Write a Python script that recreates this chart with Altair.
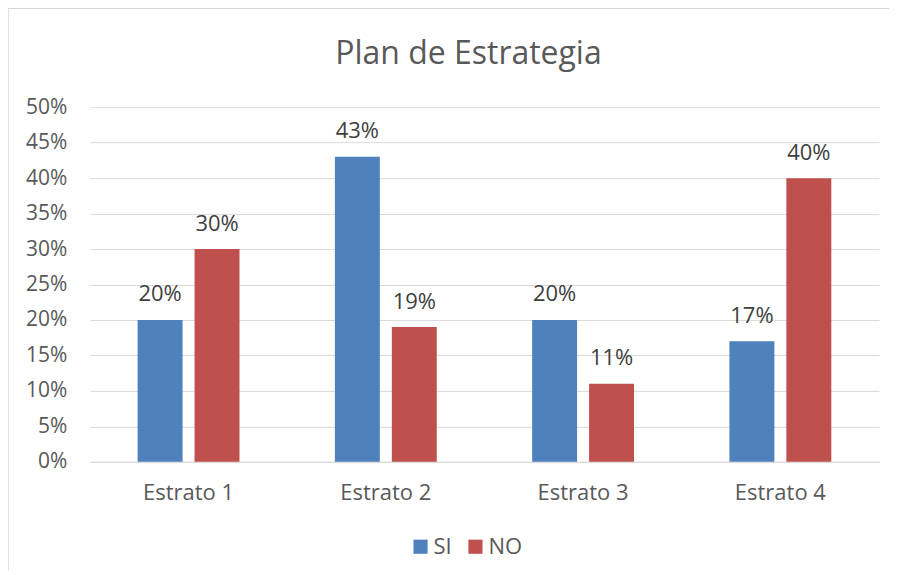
import altair as alt
import pandas as pd

categories = ["Estrato 1", "Estrato 2", "Estrato 3", "Estrato 4"]
series = ["SI", "NO"]
si_values = [0.20, 0.43, 0.20, 0.17]
no_values = [0.30, 0.19, 0.11, 0.40]
colors = ["#4F81BD", "#C0504D"]
y_ticks = [0.0, 0.05, 0.10, 0.15, 0.20, 0.25, 0.30, 0.35, 0.40, 0.45, 0.50]

rows = []
for c, s, n in zip(categories, si_values, no_values):
    rows.append({"Estrato": c, "Serie": "SI", "Valor": s})
    rows.append({"Estrato": c, "Serie": "NO", "Valor": n})
df = pd.DataFrame(rows)

FONT = "Open Sans"
TXT = "#595959"
FRAME = "#D9D9D9"

x_enc = alt.X(
    "Estrato:N",
    sort=categories,
    scale=alt.Scale(paddingInner=0.4835, paddingOuter=0.2418),
    axis=alt.Axis(
        title=None, labelAngle=0, ticks=False, domain=True,
        domainColor="#D9D9D9", domainWidth=1,
        labelBaseline="alphabetic", labelPadding=38,
        labelFontSize=22, labelFont=FONT, labelColor=TXT, grid=False,
    ),
)
xoff_enc = alt.XOffset(
    "Serie:N", sort=series, scale=alt.Scale(paddingInner=0.2105, paddingOuter=0)
)
y_enc = alt.Y(
    "Valor:Q",
    scale=alt.Scale(domain=[0, 0.5], nice=False),
    axis=alt.Axis(
        format=".0%", values=y_ticks, title=None, domain=False, ticks=False,
        grid=True, gridColor="#D9D9D9", gridWidth=1, labelOverlap=False,
        labelPadding=23, labelFontSize=21, labelFont=FONT, labelColor=TXT,
    ),
)

bars = alt.Chart(df).mark_bar().encode(
    x=x_enc,
    xOffset=xoff_enc,
    y=y_enc,
    color=alt.Color(
        "Serie:N",
        sort=series,
        scale=alt.Scale(domain=series, range=colors),
        legend=alt.Legend(
            title=None, orient="none", direction="horizontal",
            legendX=320, legendY=429,
            symbolType="square", symbolSize=200, symbolStrokeWidth=0,
            symbolOpacity=1, labelFontSize=22, labelFont=FONT, labelColor=TXT,
            labelOffset=2, columnPadding=12, padding=0,
        ),
    ),
)

labels = alt.Chart(df).mark_text(
    baseline="alphabetic", dy=-18.5, fontSize=22, font=FONT, color="#404040"
).encode(
    x=x_enc,
    xOffset=xoff_enc,
    y=y_enc,
    text=alt.Text("Valor:Q", format=".0%"),
)

# light chart-area frame (top and left edges visible in the reference)
frame_src = pd.DataFrame({"k": [0]})
frame_top = alt.Chart(frame_src).mark_rule(color=FRAME, strokeWidth=1.5).encode(
    x=alt.value(-82), x2=alt.value(820), y=alt.value(-99)
)
frame_left = alt.Chart(frame_src).mark_rule(color=FRAME, strokeWidth=1.5).encode(
    x=alt.value(-82), y=alt.value(-99), y2=alt.value(480)
)

chart = (
    alt.layer(frame_top, frame_left, bars, labels)
    .properties(
        width=790,
        height=355,
        view=alt.ViewBackground(stroke="white", strokeOpacity=0, strokeWidth=0),
        title=alt.TitleParams(
            "Plan de Estrategia", fontSize=32, font=FONT, color=TXT,
            fontWeight="normal", anchor="middle", dx=-16, offset=-63,
        ),
        autosize=alt.AutoSizeParams(type="none"),
        padding={"left": 82, "top": 99, "right": 10, "bottom": 108},
    )
    .configure_view(stroke="white", strokeOpacity=0, strokeWidth=0)
    .configure(background="white")
)

chart.save("out.html", embed_options={"renderer": "svg", "actions": False})
